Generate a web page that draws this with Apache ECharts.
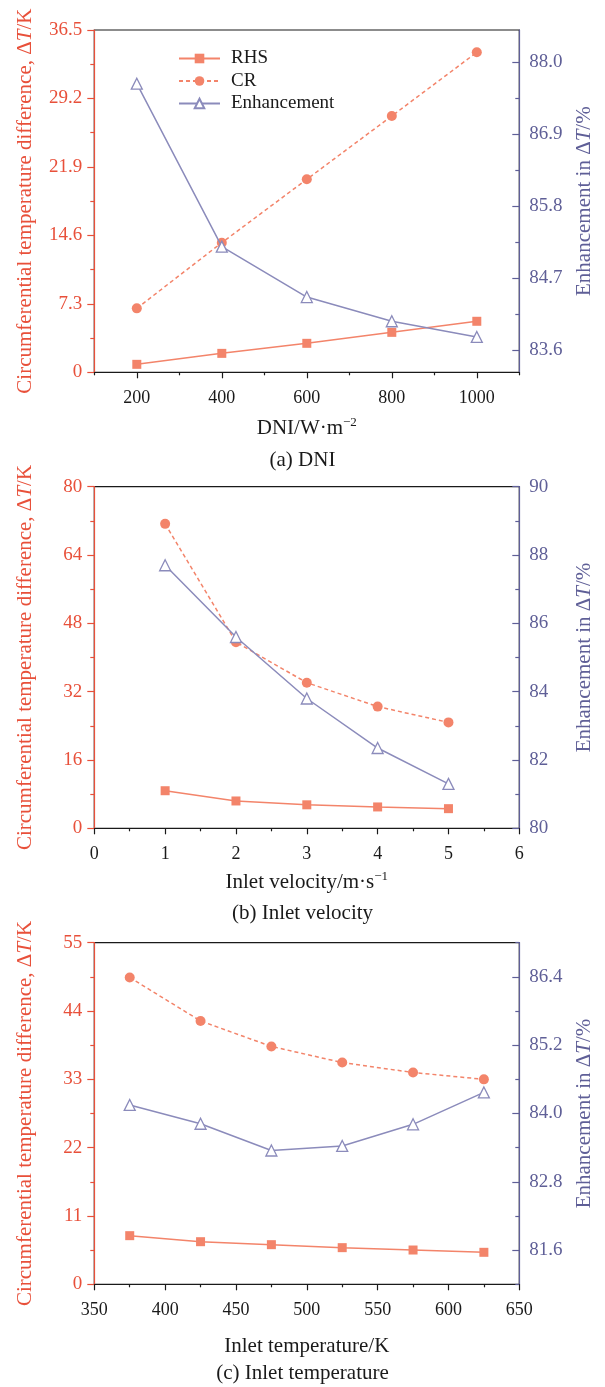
<!DOCTYPE html>
<html>
<head>
<meta charset="utf-8">
<script src="https://cdn.jsdelivr.net/npm/echarts@6/dist/echarts.min.js"></script>
<style>
  html, body { margin: 0; padding: 0; background: #fff; }
  #chart { width: 605px; height: 1387px; }
</style>
</head>
<body>
<div id="chart"></div>
<script>
// ---- data ----
var dniX = [200, 400, 600, 800, 1000];
var dniRHS = [0.85, 2.02, 3.09, 4.26, 5.44];
var dniCR = [6.82, 13.82, 20.58, 27.33, 34.12];
var dniEnh = [87.67, 85.18, 84.41, 84.04, 83.80];

var velX = [1, 2, 3, 4, 5];
var velRHS = [8.8, 6.4, 5.5, 5.0, 4.6];
var velCR = [71.3, 43.6, 34.1, 28.5, 24.8];
var velEnh = [87.7, 85.6, 83.8, 82.35, 81.3];

var tempX = [375, 425, 475, 525, 575, 625];
var tempRHS = [7.83, 6.86, 6.38, 5.9, 5.52, 5.15];
var tempCR = [49.4, 42.4, 38.3, 35.7, 34.1, 33.0];
var tempEnh = [84.15, 83.82, 83.35, 83.43, 83.81, 84.37];

// tick labels
var dniXTicks = [200, 400, 600, 800, 1000];
var dniXMinor = [100, 300, 500, 700, 900, 1100];
var dniLeftTicks = [0, 7.3, 14.6, 21.9, 29.2, 36.5];
var dniLeftMinor = [3.65, 10.95, 18.25, 25.55, 32.85];
var dniRightTicks = [83.6, 84.7, 85.8, 86.9, 88.0];
var dniRightMinor = [84.15, 85.25, 86.35, 87.45];

var velXTicks = [0, 1, 2, 3, 4, 5, 6];
var velXMinor = [0.5, 1.5, 2.5, 3.5, 4.5, 5.5];
var velLeftTicks = [0, 16, 32, 48, 64, 80];
var velLeftMinor = [8, 24, 40, 56, 72];
var velRightTicks = [80, 82, 84, 86, 88, 90];
var velRightMinor = [81, 83, 85, 87, 89];

var tempXTicks = [350, 400, 450, 500, 550, 600, 650];
var tempXMinor = [375, 425, 475, 525, 575, 625];
var tempLeftTicks = [0, 11, 22, 33, 44, 55];
var tempLeftMinor = [5.5, 16.5, 27.5, 38.5, 49.5];
var tempRightTicks = [81.6, 82.8, 84.0, 85.2, 86.4];
var tempRightMinor = [81.0, 82.2, 83.4, 84.6, 85.8, 87.0];

var FONT = 'Liberation Serif';
var ORANGE = '#e8503a';
var SALMON = '#f3846a';
var PURPLE = '#5f5f97';
var LAVENDER = '#8b8bbb';
var INK = '#1a1a1a';

var panels = [
    {
        top: 30, height: 342.3,
        xMin: 100, xMax: 1100, xTicks: dniXTicks, xMinor: dniXMinor,
        xName: '{n|DNI/W·m}{s|−2}', xGap: 44,
        lMax: 36.5, lTicks: dniLeftTicks, lMinor: dniLeftMinor, lFmt: function (v) { return v === 0 ? '0' : v.toFixed(1); },
        rMin: 83.26, rMax: 88.49, rTicks: dniRightTicks, rMinor: dniRightMinor, rFmt: function (v) { return v.toFixed(1); },
        x: dniX, rhs: dniRHS, cr: dniCR, enh: dniEnh
    },
    {
        top: 486.7, height: 341.6,
        xMin: 0, xMax: 6, xTicks: velXTicks, xMinor: velXMinor,
        xName: '{n|Inlet velocity/m·s}{s|−1}', xGap: 42,
        lMax: 80, lTicks: velLeftTicks, lMinor: velLeftMinor, lFmt: function (v) { return String(v); },
        rMin: 80, rMax: 90, rTicks: velRightTicks, rMinor: velRightMinor, rFmt: function (v) { return String(v); },
        x: velX, rhs: velRHS, cr: velCR, enh: velEnh
    },
    {
        top: 942.7, height: 341.6,
        xMin: 350, xMax: 650, xTicks: tempXTicks, xMinor: tempXMinor,
        xName: '{n|Inlet temperature/K}', xGap: 50,
        lMax: 55, lTicks: tempLeftTicks, lMinor: tempLeftMinor, lFmt: function (v) { return String(v); },
        rMin: 81.0, rMax: 87.0, rTicks: tempRightTicks, rMinor: tempRightMinor, rFmt: function (v) { return v.toFixed(1); },
        x: tempX, rhs: tempRHS, cr: tempCR, enh: tempEnh
    }
];
var captions = [
    { text: '(a) DNI', y: 462 },
    { text: '(b) Inlet velocity', y: 915 },
    { text: '(c) Inlet temperature', y: 1375 }
];

function pairs(xs, ys) {
    return xs.map(function (x, i) { return [x, ys[i]]; });
}

var grids = [], xAxes = [], yAxes = [], series = [], graphics = [];

panels.forEach(function (p, i) {
    grids.push({
        left: 94.3, width: 425, top: p.top, height: p.height,
        show: true, borderColor: INK, borderWidth: 1.2, backgroundColor: 'transparent'
    });
    // bottom axis with labels and major ticks
    xAxes.push({
        gridIndex: i, type: 'value', position: 'bottom', min: p.xMin, max: p.xMax,
        name: p.xName, nameLocation: 'middle', nameGap: p.xGap,
        nameTextStyle: {
            rich: {
                n: { fontFamily: FONT, fontSize: 21, color: INK, lineHeight: 24 },
                s: { fontFamily: FONT, fontSize: 13, color: INK, lineHeight: 13, verticalAlign: 'top' }
            }
        },
        axisLine: { show: true, onZero: false, lineStyle: { color: INK, width: 1.2 } },
        axisTick: { show: true, customValues: p.xTicks, length: 6, lineStyle: { color: INK, width: 1.2 } },
        axisLabel: {
            customValues: p.xTicks, margin: 17, fontFamily: FONT, fontSize: 18, color: INK,
            formatter: function (v) { return String(v); }
        },
        splitLine: { show: false }
    });
    // minor ticks only
    xAxes.push({
        gridIndex: i, type: 'value', position: 'bottom', min: p.xMin, max: p.xMax,
        axisLine: { show: false, onZero: false },
        axisTick: { show: true, customValues: p.xMinor, length: 3, lineStyle: { color: INK, width: 1.2 } },
        axisLabel: { show: false },
        splitLine: { show: false }
    });
    // left axis
    yAxes.push({
        gridIndex: i, type: 'value', position: 'left', min: 0, max: p.lMax,
        name: '{n|Circumferential temperature difference, Δ}{i|T}{n|/K}',
        nameLocation: 'middle', nameGap: 58, nameRotate: 90,
        nameTextStyle: {
            rich: {
                n: { fontFamily: FONT, fontSize: 21, color: ORANGE },
                i: { fontFamily: FONT, fontSize: 21, color: ORANGE, fontStyle: 'italic' }
            }
        },
        axisLine: { show: true, onZero: false, lineStyle: { color: ORANGE, width: 1.2 } },
        axisTick: { show: true, customValues: p.lTicks, length: 7, lineStyle: { color: ORANGE, width: 1.2 } },
        axisLabel: { customValues: p.lTicks, formatter: p.lFmt, margin: 12, fontFamily: FONT, fontSize: 19, color: ORANGE },
        splitLine: { show: false }
    });
    yAxes.push({
        gridIndex: i, type: 'value', position: 'left', min: 0, max: p.lMax,
        axisLine: { show: false, onZero: false },
        axisTick: { show: true, customValues: p.lMinor, length: 4, lineStyle: { color: ORANGE, width: 1.2 } },
        axisLabel: { show: false },
        splitLine: { show: false }
    });
    // right axis
    yAxes.push({
        gridIndex: i, type: 'value', position: 'right', min: p.rMin, max: p.rMax,
        name: '{n|Enhancement in Δ}{i|T}{n|/%}',
        nameLocation: 'middle', nameGap: 55, nameRotate: 90,
        nameTextStyle: {
            rich: {
                n: { fontFamily: FONT, fontSize: 21, color: PURPLE },
                i: { fontFamily: FONT, fontSize: 21, color: PURPLE, fontStyle: 'italic' }
            }
        },
        axisLine: { show: true, onZero: false, lineStyle: { color: PURPLE, width: 1.2 } },
        axisTick: { show: true, inside: true, customValues: p.rTicks, length: 7, lineStyle: { color: PURPLE, width: 1.2 } },
        axisLabel: { customValues: p.rTicks, formatter: p.rFmt, margin: 10, fontFamily: FONT, fontSize: 19, color: PURPLE },
        splitLine: { show: false }
    });
    yAxes.push({
        gridIndex: i, type: 'value', position: 'right', min: p.rMin, max: p.rMax,
        axisLine: { show: false, onZero: false },
        axisTick: { show: true, inside: true, customValues: p.rMinor, length: 4, lineStyle: { color: PURPLE, width: 1.2 } },
        axisLabel: { show: false },
        splitLine: { show: false }
    });

    series.push({
        name: 'RHS', type: 'line', xAxisIndex: i * 2, yAxisIndex: i * 4,
        data: pairs(p.x, p.rhs), symbol: 'rect', symbolSize: 9,
        lineStyle: { color: SALMON, width: 1.5 }, itemStyle: { color: SALMON },
        z: 3
    });
    series.push({
        name: 'CR', type: 'line', xAxisIndex: i * 2, yAxisIndex: i * 4,
        data: pairs(p.x, p.cr), symbol: 'circle', symbolSize: 10,
        lineStyle: { color: SALMON, width: 1.5, type: [4, 3] }, itemStyle: { color: SALMON },
        z: 3
    });
    series.push({
        name: 'Enhancement', type: 'line', xAxisIndex: i * 2, yAxisIndex: i * 4 + 2,
        data: pairs(p.x, p.enh), symbol: 'triangle', symbolSize: 11,
        lineStyle: { color: LAVENDER, width: 1.5 },
        itemStyle: { color: '#fff', borderColor: LAVENDER, borderWidth: 1.3 },
        z: 4
    });
});

captions.forEach(function (c) {
    graphics.push({
        type: 'text', left: 'center', top: c.y - 12,
        style: { text: c.text, fontFamily: FONT, fontSize: 21, fill: INK }
    });
});

var myChart = echarts.init(document.getElementById('chart'));
var chartOption = {
    animation: false,
    backgroundColor: '#fff',
    textStyle: { fontFamily: FONT },
    grid: grids,
    xAxis: xAxes,
    yAxis: yAxes,
    legend: {
        data: ['RHS', 'CR', 'Enhancement'],
        orient: 'vertical', left: 178, top: 49, padding: 0,
        itemWidth: 41, itemHeight: 12, itemGap: 3.5,
        textStyle: { fontFamily: FONT, fontSize: 19, color: INK, padding: [0, 0, 0, 6] }
    },
    series: series,
    graphic: graphics
};
myChart.setOption(chartOption, true);
</script>
</body>
</html>
